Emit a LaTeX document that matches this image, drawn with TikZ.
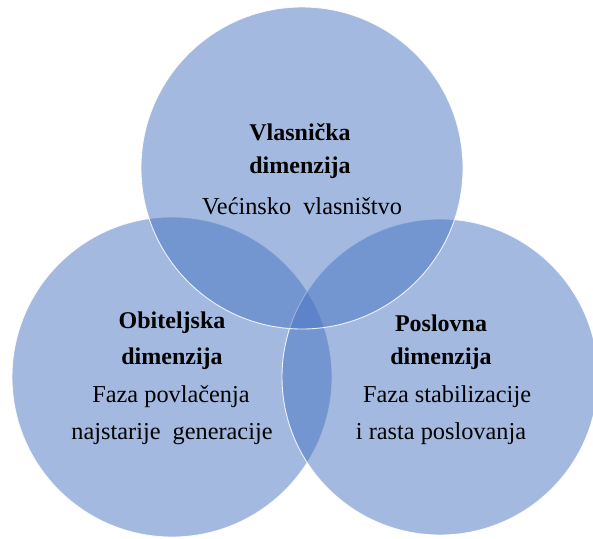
\documentclass[tikz,border=0pt]{standalone}
\usepackage{fontspec}
\setmainfont{Liberation Serif}
\definecolor{venn}{RGB}{71,115,193}
\tikzset{
  set/.style={circle, fill=venn, fill opacity=0.5, draw=white, draw opacity=0.85, line width=0.9pt, inner sep=0pt},
  ttl/.style={font=\fontsize{24}{29}\selectfont\bfseries, text=black, inner sep=0pt, anchor=center},
  sub/.style={font=\fontsize{24.3}{29}\selectfont, text=black, inner sep=0pt, anchor=center}
}
\begin{document}
\begin{tikzpicture}[x=1pt,y=-1pt]
\useasboundingbox (0,0) rectangle (593,538);
\begin{scope}
\clip (0,0) rectangle (593,538);
\node[set, minimum size=320pt] (L) at (172,377) {};
\node[set, minimum size=316pt] (R) at (440,377) {};
\node[set, minimum size=322pt] (T) at (302,168) {};
\end{scope}
% top circle text
\node[ttl] (t1) at (300,132) {Vlasnička};
\node[ttl] (t2) at (300,168) {dimenzija};
\node[sub] (t3) at (302,206) {Većinsko\ \ vlasništvo};
% left circle text
\node[ttl] (l1) at (172,323) {Obiteljska};
\node[ttl] (l2) at (172,359) {dimenzija};
\node[sub] (l3) at (171,397) {Faza povlačenja};
\node[sub] (l4) at (172,434) {najstarije\ \ generacije};
% right circle text
\node[ttl] (r1) at (441,323) {Poslovna};
\node[ttl] (r2) at (441,359) {dimenzija};
\node[sub] (r3) at (447,397) {Faza stabilizacije};
\node[sub] (r4) at (441,434) {i rasta poslovanja};
\end{tikzpicture}
\end{document}
